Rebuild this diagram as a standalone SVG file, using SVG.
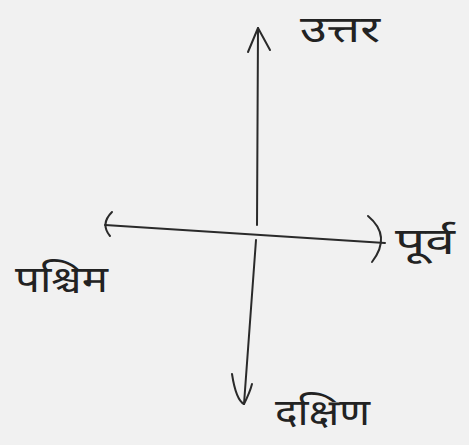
<svg xmlns="http://www.w3.org/2000/svg" width="469" height="445" viewBox="0 0 469 445">
<style>
.ln{fill:none;stroke:#2a2a2a;stroke-width:2;stroke-linecap:round;stroke-linejoin:round}
.lb{font-family:"Noto Sans Devanagari","Noto Sans","Lohit Devanagari","DejaVu Sans",sans-serif;font-size:36px;fill:#222}
</style>
<rect width="469" height="445" fill="#f1f1f1"/>
<g id="connectors">
<path class="ln" d="M258 28 L257 225"/>
<path class="ln" d="M256 240 L244 404"/>
<path class="ln" d="M105 225 L385 243"/>
<path class="ln" d="M248 52 L258 28 L270 50"/>
<path class="ln" d="M368 216 Q392 236 372 262"/>
<path class="ln" d="M112 212 Q100 224 110 236"/>
<path class="ln" d="M232 374 Q236 400 244 404 Q250 392 252 384"/>
</g>
<g id="north"><text class="lb" x="300" y="42" textLength="80" lengthAdjust="spacingAndGlyphs">उत्तर</text></g>
<g id="east"><text class="lb" x="395" y="254" textLength="60" lengthAdjust="spacingAndGlyphs">पूर्व</text></g>
<g id="west"><text class="lb" x="15" y="292" textLength="93" lengthAdjust="spacingAndGlyphs">पश्चिम</text></g>
<g id="south"><text class="lb" x="275" y="425" textLength="95" lengthAdjust="spacingAndGlyphs">दक्षिण</text></g>
</svg>
